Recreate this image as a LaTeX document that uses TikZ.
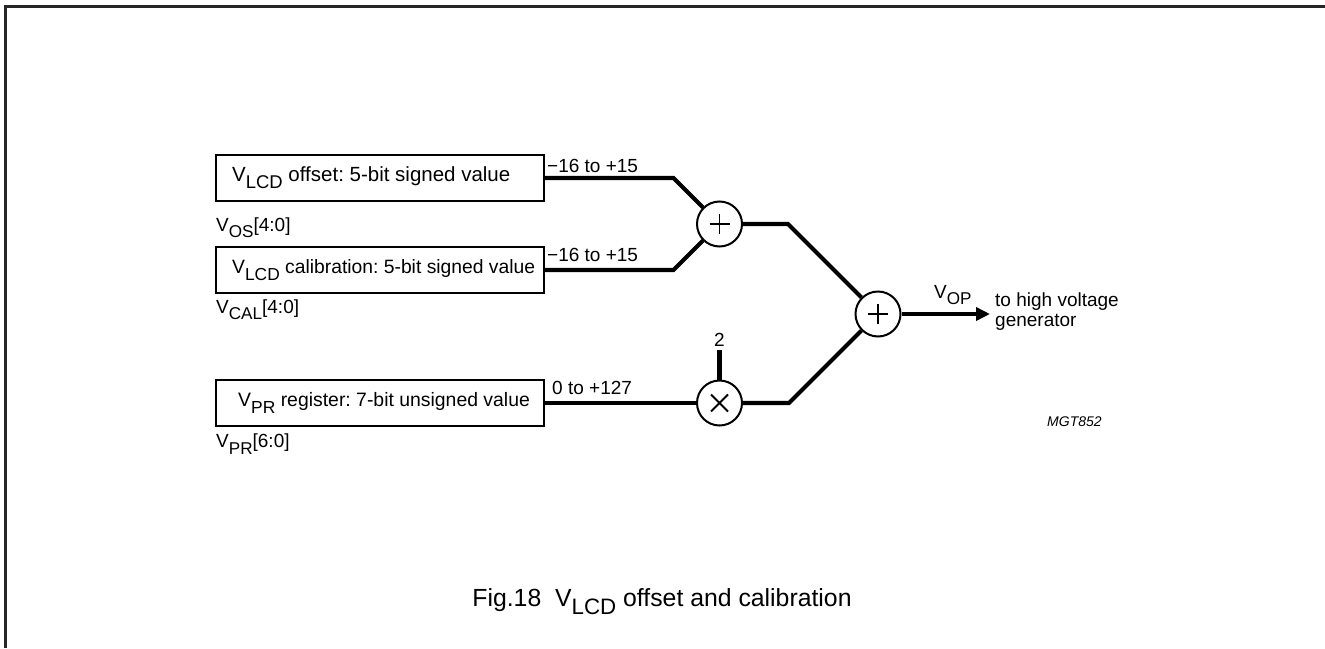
\documentclass[tikz,border=0pt]{standalone}
\usepackage{fontspec}
\setmainfont{Liberation Sans}
\usetikzlibrary{arrows.meta,calc}
\frenchspacing
\newcommand\lo[1]{\raisebox{-0.33em}{\scalebox{0.9}{#1}}}
\newcommand\mns{\char"2212\relax}
\tikzset{
  blk/.style={draw, line width=2pt, minimum width=328pt, minimum height=46pt, inner sep=0pt},
  blab/.style={anchor=west, inner sep=0pt, font=\fontsize{#1}{22}\selectfont},
  opc/.style={draw, circle, line width=2pt, minimum size=45pt, inner sep=0pt},
  wire/.style={line width=4.2pt},
  sym/.style={line width=1.8pt},
  lab/.style={font=\fontsize{19}{21}\selectfont, inner sep=0pt},
}
\begin{document}
\begin{tikzpicture}[x=1pt,y=-1pt]
\useasboundingbox (0,0) rectangle (1325,648);
% frame (left and top edges)
\draw[line width=2.5pt, color=black!85] (5.5,648) -- (5.5,6.5) -- (1325,6.5);

% boxes
\node[blk] (b1) at (380,178) {};
\node[blk] (b2) at (380,270) {};
\node[blk] (b3) at (380,403) {};
\node[blab=20.5] (t1) at (232,178) {V\lo{LCD} offset: 5-bit signed value};
\node[blab=19.3] (t2) at (232,270) {V\lo{LCD} calibration: 5-bit signed value};
\node[blab=19.4] (t3) at (238,403) {V\lo{PR} register: 7-bit unsigned value};

% register names
\node[lab, anchor=west] (n1) at (216,228) {V\lo{OS}[4:0]};
\node[lab, anchor=west] (n2) at (216,310) {V\lo{CAL}[4:0]};
\node[lab, anchor=west] (n3) at (216,444) {V\lo{PR}[6:0]};

% operators
\node[opc] (a1) at (719.5,224) {};
\node[opc] (a2) at (878,314) {};
\node[opc] (m) at (719.5,403) {};
\draw[sym] ($(a1)+(-10,0)$) -- ($(a1)+(10,0)$) ($(a1)+(0,-10)$) -- ($(a1)+(0,10)$);
\draw[sym] ($(a2)+(-10,0)$) -- ($(a2)+(10,0)$) ($(a2)+(0,-10)$) -- ($(a2)+(0,10)$);
\draw[sym] ($(m)+(-8.5,-8.5)$) -- ($(m)+(8.5,8.5)$) ($(m)+(-8.5,8.5)$) -- ($(m)+(8.5,-8.5)$);

% connectors
\draw[wire] (b1.east) -- ($(a1)+(-46,-46)$) -- (a1);
\draw[wire] (b2.east) -- ($(a1)+(-46,46)$) -- (a1);
\draw[wire] (a1.east) -- ($(a2)+(-90,-90)$) -- (a2);
\draw[wire] (b3.east) -- (m);
\draw[wire] (m.east) -- ($(a2)+(-89,89)$) -- (a2);

\node[lab] (two) at (719.5,340) {2};
\draw[wire] ([yshift=-3pt]two.south) -- (m.north);

\coordinate (out) at (990,314);
\draw[wire, -{Triangle[length=14pt, width=13pt]}] (a2.east) -- (out);

% labels on connectors
\node[lab, anchor=west] (l1) at (547,166) {\mns16 to +15};
\node[lab, anchor=west] (l2) at (547,255) {\mns16 to +15};
\node[lab, anchor=west] (l3) at (552,388) {0 to +127};
\node[lab, anchor=west] (vop) at (934,295) {V\lo{OP}};
\node[lab, anchor=west, align=left, font=\fontsize{19}{20}\selectfont] (gen) at (995,312) {to high voltage\\generator};

\node[anchor=west, inner sep=0pt, font=\fontsize{14}{16}\selectfont\itshape] (code) at (1047,422) {MGT852};

% caption
\node[font=\fontsize{24.8}{26}\selectfont, inner sep=0pt] (cap) at (662,602) {Fig.18\ \ V\lo{LCD} offset and calibration};
\end{tikzpicture}
\end{document}
